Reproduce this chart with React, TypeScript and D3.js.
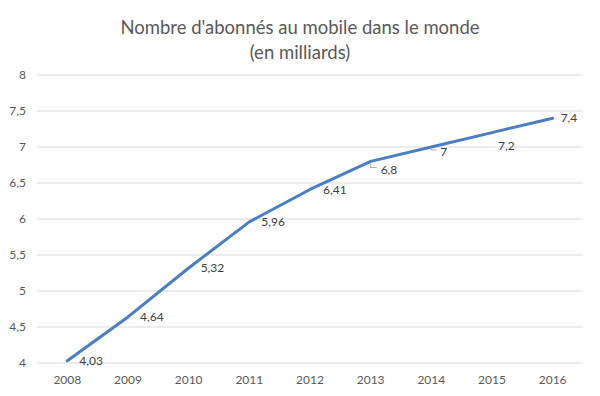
import React, { useEffect, useRef } from 'react';
import * as d3 from 'd3';

const years = ['2008', '2009', '2010', '2011', '2012', '2013', '2014', '2015', '2016'];
const subscribers = [4.03, 4.64, 5.32, 5.96, 6.41, 6.8, 7, 7.2, 7.4];
const yTicks = [4, 4.5, 5, 5.5, 6, 6.5, 7, 7.5, 8];
const titleLines = ["Nombre d'abonnés au mobile dans le monde", '(en milliards)'];

// label placement tweaks (dx, dy, leader line) as in the original
const labelStyle = [
	{ dx: 12, dy: 0, leader: false },
	{ dx: 12, dy: 0, leader: false },
	{ dx: 12, dy: 0, leader: false },
	{ dx: 12, dy: 0, leader: false },
	{ dx: 13, dy: 0, leader: false },
	{ dx: 10, dy: 8, leader: true },
	{ dx: 9, dy: 5, leader: true },
	{ dx: 6, dy: 13, leader: false },
	{ dx: 8, dy: 0, leader: false },
];

const W = 600;
const H = 396;
const fmt = (v: number) => String(v).replace('.', ',');

export default function App() {
	const ref = useRef<SVGSVGElement>(null);

	useEffect(() => {
		const svg = d3.select(ref.current);
		svg.selectAll('*').remove();
		const font = 'Lato, Carlito, Calibri, sans-serif';

		svg.append('rect')
			.attr('x', 0.5).attr('y', 0.5)
			.attr('width', W - 2).attr('height', H - 3)
			.attr('fill', '#fff').attr('stroke', '#d9d9d9');

		const x = d3.scaleBand().domain(years).range([37, 583]);
		const y = d3.scaleLinear().domain([4, 8]).range([363, 75]);

		svg.selectAll('text.title')
			.data(titleLines)
			.enter()
			.append('text')
			.attr('class', 'title')
			.attr('x', W / 2)
			.attr('y', (d, i) => 34 + i * 25)
			.attr('text-anchor', 'middle')
			.attr('font-family', font)
			.attr('font-size', 18.5)
			.attr('fill', '#595959')
			.text(d => d);

		const grid = svg.append('g');
		grid.selectAll('line')
			.data(yTicks)
			.enter()
			.append('line')
			.attr('x1', 37).attr('x2', 583)
			.attr('y1', d => y(d)).attr('y2', d => y(d))
			.attr('stroke', '#d9d9d9')
			.attr('stroke-width', 1);

		grid.selectAll('text')
			.data(yTicks)
			.enter()
			.append('text')
			.attr('x', 26)
			.attr('y', d => y(d))
			.attr('dy', '0.35em')
			.attr('text-anchor', 'end')
			.attr('font-family', font)
			.attr('font-size', 12)
			.attr('fill', '#595959')
			.text(d => fmt(d));

		svg.append('g')
			.selectAll('text')
			.data(years)
			.enter()
			.append('text')
			.attr('x', d => (x(d) as number) + x.bandwidth() / 2)
			.attr('y', 384)
			.attr('text-anchor', 'middle')
			.attr('font-family', font)
			.attr('font-size', 12)
			.attr('fill', '#595959')
			.text(d => d);

		const cx = (i: number) => (x(years[i]) as number) + x.bandwidth() / 2;

		const line = d3.line<number>()
			.x((d, i) => cx(i))
			.y(d => y(d));

		svg.append('path')
			.datum(subscribers)
			.attr('d', line)
			.attr('fill', 'none')
			.attr('stroke', '#4a7ec4')
			.attr('stroke-width', 3)
			.attr('stroke-linejoin', 'round')
			.attr('stroke-linecap', 'round');

		const labels = svg.append('g');
		subscribers.forEach((v, i) => {
			const s = labelStyle[i];
			const px = cx(i);
			const py = y(v);
			if (s.leader) {
				labels.append('path')
					.attr('d', `M${px},${py + 2}V${py + s.dy - 2}H${px + s.dx - 4}`)
					.attr('fill', 'none')
					.attr('stroke', '#a6a6a6')
					.attr('stroke-width', 1);
			}
			labels.append('text')
				.attr('x', px + s.dx)
				.attr('y', py + s.dy)
				.attr('dy', '0.35em')
				.attr('font-family', font)
				.attr('font-size', 12)
				.attr('fill', '#404040')
				.text(fmt(v));
		});
	}, []);

	return (
		<div style={{ margin: -8 }}>
			<svg ref={ref} width={W} height={H} />
		</div>
	);
}
